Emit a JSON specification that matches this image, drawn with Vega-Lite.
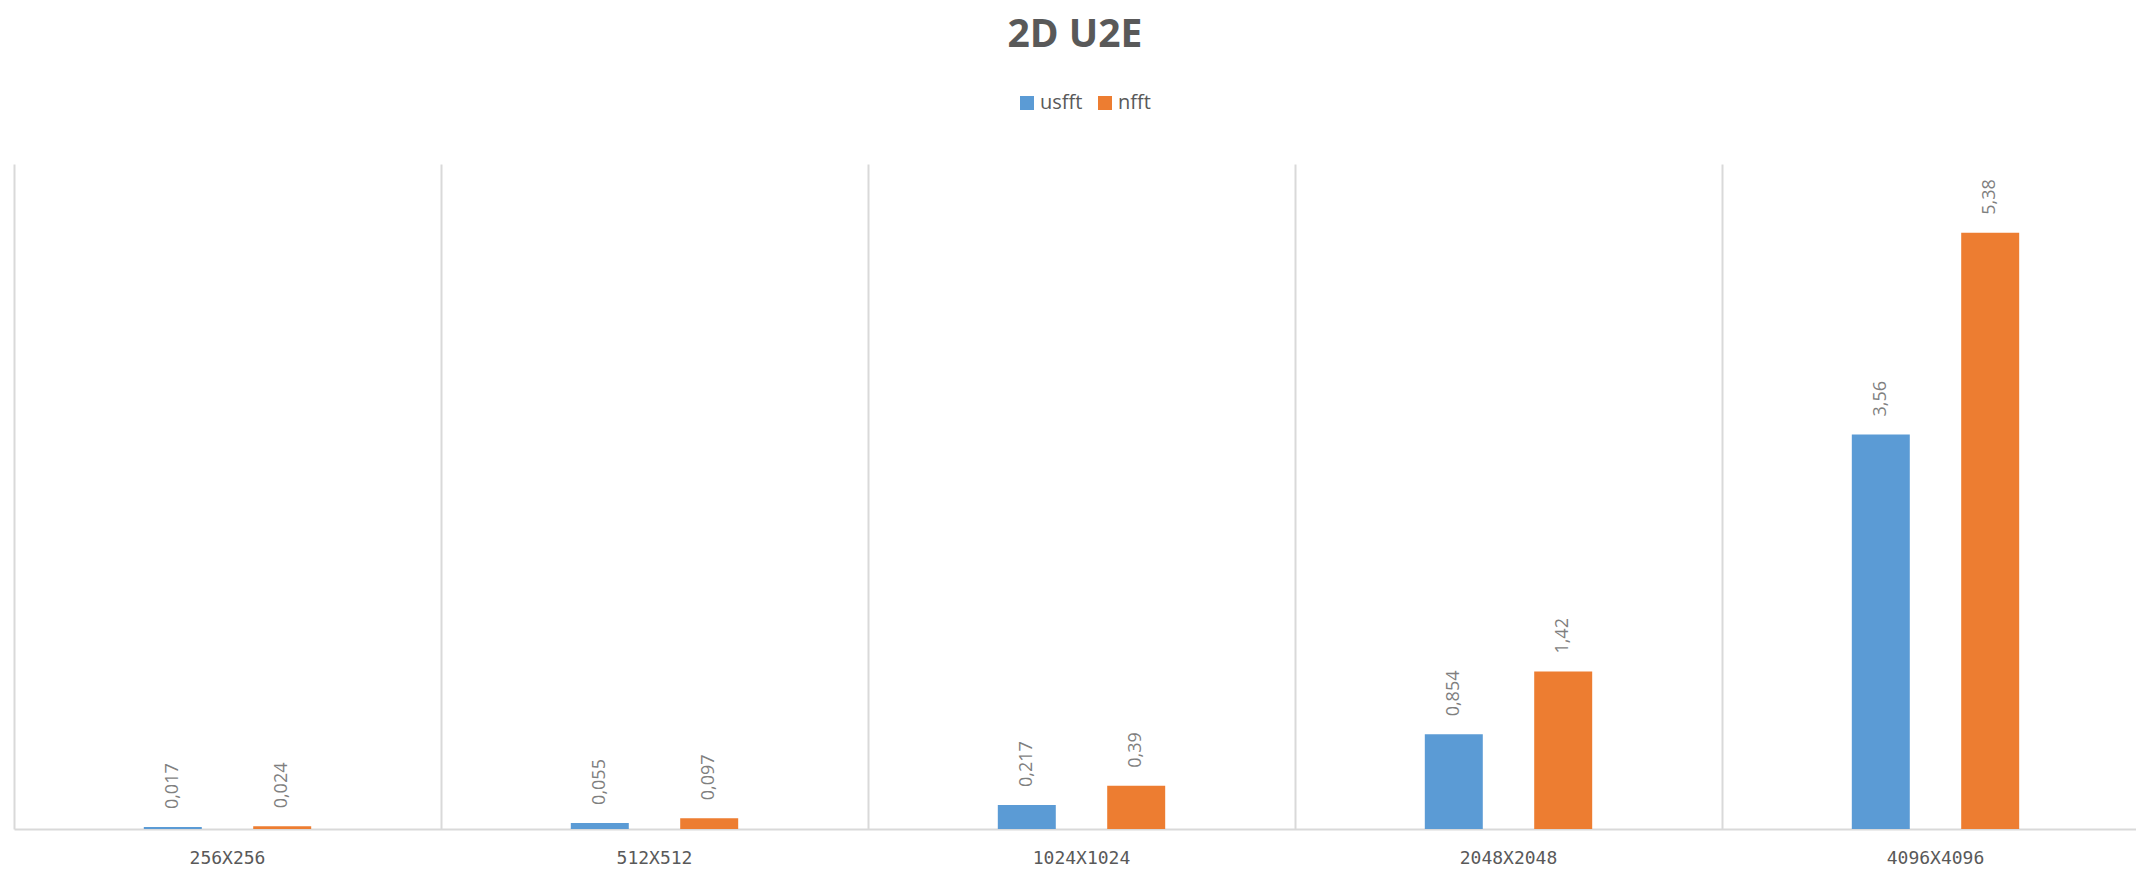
{
  "$schema": "https://vega.github.io/schema/vega-lite/v6.json",
  "autosize": {"type": "none"},
  "width": 2122,
  "height": 665,
  "padding": {"left": 14, "top": 164, "right": 0, "bottom": 42},
  "background": "#ffffff",
  "title": {
    "text": "2D U2E",
    "font": "Open Sans",
    "fontSize": 39,
    "fontWeight": "bold",
    "color": "#595959",
    "anchor": "middle",
    "offset": 38
  },
  "data": {
    "values": [
      {"size": "256X256", "series": "usfft", "value": 0.017, "label": "0,017"},
      {"size": "256X256", "series": "nfft", "value": 0.024, "label": "0,024"},
      {"size": "512X512", "series": "usfft", "value": 0.055, "label": "0,055"},
      {"size": "512X512", "series": "nfft", "value": 0.097, "label": "0,097"},
      {"size": "1024X1024", "series": "usfft", "value": 0.217, "label": "0,217"},
      {"size": "1024X1024", "series": "nfft", "value": 0.39, "label": "0,39"},
      {"size": "2048X2048", "series": "usfft", "value": 0.854, "label": "0,854"},
      {"size": "2048X2048", "series": "nfft", "value": 1.42, "label": "1,42"},
      {"size": "4096X4096", "series": "usfft", "value": 3.56, "label": "3,56"},
      {"size": "4096X4096", "series": "nfft", "value": 5.38, "label": "5,38"}
    ]
  },
  "encoding": {
    "x": {
      "field": "size",
      "type": "nominal",
      "sort": null,
      "scale": {"range": [0, 2135], "paddingInner": 0.608, "paddingOuter": 0.304},
      "axis": {
        "title": null,
        "labelAngle": 0,
        "labelFont": "DejaVu Sans Mono",
        "labelFontSize": 18,
        "labelColor": "#595959",
        "labelPadding": 20,
        "ticks": false,
        "domainColor": "#d9d9d9",
        "domainWidth": 2,
        "grid": true,
        "gridColor": "#d9d9d9",
        "gridWidth": 2,
        "bandPosition": -0.775
      }
    },
    "xOffset": {
      "field": "series",
      "type": "nominal",
      "sort": ["usfft", "nfft"],
      "scale": {"paddingInner": 0.47, "paddingOuter": 0}
    },
    "y": {
      "field": "value",
      "type": "quantitative",
      "scale": {"domain": [0, 6]},
      "axis": null
    }
  },
  "layer": [
    {
      "mark": {"type": "bar"},
      "encoding": {
        "color": {
          "field": "series",
          "type": "nominal",
          "sort": ["usfft", "nfft"],
          "scale": {"domain": ["usfft", "nfft"], "range": ["#5b9bd5", "#ed7d31"]},
          "legend": {
            "title": null,
            "orient": "none",
            "direction": "horizontal",
            "legendX": 1003,
            "legendY": -71,
            "symbolType": "square",
            "symbolSize": 196,
            "symbolStrokeWidth": 0,
            "symbolOpacity": 1,
            "labelFont": "Open Sans",
            "labelFontSize": 20,
            "labelColor": "#595959",
            "labelOffset": 3,
            "columnPadding": 12
          }
        }
      }
    },
    {
      "mark": {
        "type": "text",
        "angle": 270,
        "align": "left",
        "baseline": "middle",
        "dx": 18,
        "font": "Open Sans",
        "fontSize": 18,
        "color": "#7f7f7f"
      },
      "encoding": {"text": {"field": "label"}}
    }
  ],
  "config": {"view": {"stroke": null}}
}
